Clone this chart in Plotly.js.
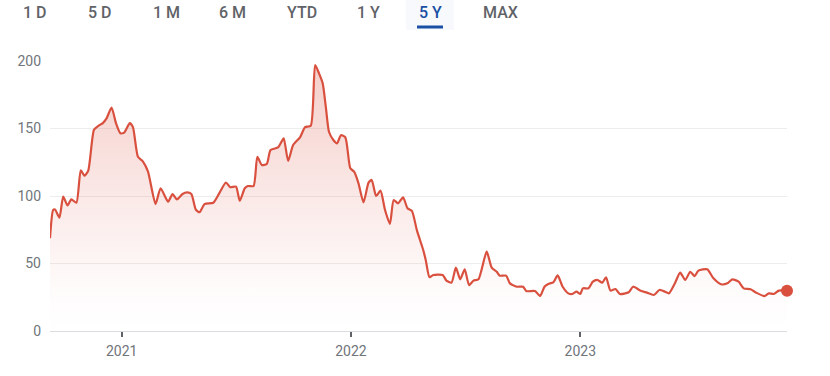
<!DOCTYPE html>
<html>
<head>
<meta charset="utf-8">
<script src="https://cdn.plot.ly/plotly-3.0.1.min.js"></script>
<style>
html,body{margin:0;padding:0;background:#fff;}
#chart{width:830px;height:376px;}
</style>
</head>
<body>
<div id="chart"></div>
<script>
const dates = [
"2020-09-09","2020-09-14","2020-09-17","2020-09-24","2020-09-30","2020-10-07","2020-10-13","2020-10-21","2020-10-28","2020-11-03",
"2020-11-09","2020-11-18","2020-11-25","2020-12-02","2020-12-08","2020-12-16","2020-12-23","2020-12-30","2021-01-05","2021-01-14",
"2021-01-19","2021-01-27","2021-02-04","2021-02-12","2021-02-24","2021-03-04","2021-03-16","2021-03-23","2021-03-30","2021-04-08",
"2021-04-15","2021-04-22","2021-04-29","2021-05-05","2021-05-13","2021-05-27","2021-06-06","2021-06-16","2021-06-23","2021-07-02",
"2021-07-08","2021-07-16","2021-07-21","2021-07-30","2021-08-05","2021-08-12","2021-08-20","2021-08-26","2021-09-07","2021-09-11",
"2021-09-16","2021-09-23","2021-10-01","2021-10-12","2021-10-20","2021-10-29","2021-11-05","2021-11-11","2021-11-17","2021-11-22",
"2021-11-27","2021-12-04","2021-12-10","2021-12-16","2021-12-23","2021-12-31","2022-01-06","2022-01-13","2022-01-21","2022-01-29",
"2022-02-03","2022-02-10","2022-02-17","2022-02-24","2022-03-04","2022-03-10","2022-03-17","2022-03-25","2022-04-01","2022-04-08",
"2022-04-16","2022-04-26","2022-04-30","2022-05-06","2022-05-12","2022-05-27","2022-06-02","2022-06-10","2022-06-17","2022-06-24",
"2022-07-01","2022-07-08","2022-07-15","2022-07-23","2022-08-05","2022-08-13","2022-08-21","2022-08-26","2022-09-05","2022-09-11",
"2022-09-22","2022-10-02","2022-10-07","2022-10-21","2022-10-29","2022-11-05","2022-11-11","2022-11-19","2022-11-26","2022-12-04",
"2022-12-13","2022-12-19","2022-12-26","2023-01-01","2023-01-05","2023-01-14","2023-01-21","2023-01-28","2023-02-05","2023-02-11",
"2023-02-18","2023-02-26","2023-03-05","2023-03-19","2023-03-26","2023-04-07","2023-04-17","2023-04-28","2023-05-07","2023-05-16",
"2023-05-22","2023-06-01","2023-06-09","2023-06-17","2023-06-25","2023-07-02","2023-07-08","2023-07-22","2023-08-01","2023-08-13",
"2023-08-23","2023-08-31","2023-09-10","2023-09-18","2023-09-29","2023-10-08","2023-10-21","2023-10-28","2023-11-05","2023-11-13",
"2023-11-26"
];
const prices = [
68.7,89.6,90,84,99.5,93,97.5,95,119,115,
119,149,152,154,157.5,165.5,154,146.5,147,154,
151,129,125.5,118,94,105.7,95.8,101.5,97.5,101.5,
102.7,101.5,90,88,94,95,102.5,110,106.5,107,
96.5,105.7,107.4,107.4,129,123,123.7,134,136,139,
142.7,126,137.8,143.5,151,152,197,191,183.5,166,
147.6,141.5,139,145,143.5,120.5,118,109.4,95.3,109.9,
111.9,100,104,90,79.3,97,94.6,99,90.9,89,
74.5,60,52.6,39.8,41.5,41.5,37.3,35.8,46.9,38.3,
45.7,34,37.3,38.3,58.8,46.9,43.9,41,41,35.3,
32.8,32.8,29.6,29.6,25.9,32.8,34.8,36,41.2,32.8,
27.9,27.4,29.1,27.4,31.6,31.6,36.5,37.8,35.8,39.8,
29.9,31.1,27.4,28.7,32.8,29.9,28.4,26.7,30.4,29.1,
27.9,35.8,43.2,37.8,43.9,40.7,44.7,45.7,39,34.6,
35.3,38.3,36.5,31.6,30.9,28.4,25.9,27.9,27.4,29.9,
29.9
];
const yTicks = [0,50,100,150,200];
const xTickVals = ["2021-01-01","2022-01-01","2023-01-01"];
const xTickText = ["2021","2022","2023"];
const ranges = ["1 D","5 D","1 M","6 M","YTD","1 Y","5 Y","MAX"];
const activeRange = "5 Y";

const W = 830, H = 376;
const M = {l:50, r:43, t:61, b:45};
const plotW = W - M.l - M.r, plotH = H - M.t - M.b;
const px2x = p => (p - M.l) / plotW;
const px2y = p => (H - M.b - p) / plotH;

const lineColor = "#d9503f";
const btnCenters = [35, 100, 166, 232, 302, 368, 430, 500];

const annotations = ranges.map((r, i) => ({
  text: r, xref: "paper", yref: "paper",
  x: px2x(btnCenters[i]), y: px2y(12.5), xanchor: "center", yanchor: "middle",
  showarrow: false,
  font: {family: "Roboto, Arial, sans-serif", size: 16, weight: 500,
         color: r === activeRange ? "#1a4fa3" : "#5f6368"}
}));

const ai = ranges.indexOf(activeRange);
const shapes = [
  {type: "rect", xref: "paper", yref: "paper",
   x0: px2x(btnCenters[ai] - 24), x1: px2x(btnCenters[ai] + 24), y0: px2y(30), y1: px2y(0),
   fillcolor: "#f7f9fd", line: {width: 0}, layer: "below"},
  {type: "line", xref: "paper", yref: "paper",
   x0: px2x(btnCenters[ai] - 13), x1: px2x(btnCenters[ai] + 13), y0: px2y(27), y1: px2y(27),
   line: {color: "#1a4fa3", width: 3}}
];

const traces = [
  {
    x: dates, y: prices, type: "scatter", mode: "lines",
    line: {color: lineColor, width: 2.2, shape: "spline", smoothing: 0.6},
    fill: "tozeroy",
    fillgradient: {type: "vertical", start: 0, stop: 200,
      colorscale: [[0, "rgba(217,80,63,0)"], [0.15, "rgba(217,80,63,0.02)"], [1, "rgba(217,80,63,0.28)"]]},
    hoverinfo: "skip"
  },
  {
    x: [dates[dates.length - 1]], y: [prices[prices.length - 1]], type: "scatter", mode: "markers",
    marker: {color: lineColor, size: 12}, cliponaxis: false, hoverinfo: "skip"
  }
];

const layout = {
  width: W, height: H, margin: M,
  paper_bgcolor: "#ffffff", plot_bgcolor: "#ffffff",
  showlegend: false,
  font: {family: "Roboto, Arial, sans-serif", color: "#70757a"},
  xaxis: {
    type: "date", range: ["2020-09-09", "2023-11-26"],
    tickvals: xTickVals, ticktext: xTickText,
    ticks: "outside", ticklen: 5, tickwidth: 2, tickcolor: "#5f6368",
    showline: true, linecolor: "#dadce0", linewidth: 1,
    showgrid: false, zeroline: false, ticklabelstandoff: 2,
    tickfont: {size: 14, color: "#70757a"}, fixedrange: true
  },
  yaxis: {
    range: [0, 200], tickvals: yTicks,
    showgrid: true, gridcolor: "#ededed", gridwidth: 1,
    zeroline: false, showline: false, ticks: "", ticklabelstandoff: 8,
    tickfont: {size: 14, color: "#70757a"}, fixedrange: true
  },
  annotations: annotations,
  shapes: shapes
};

Plotly.newPlot("chart", traces, layout, {displayModeBar: false, staticPlot: true});
</script>
</body>
</html>
